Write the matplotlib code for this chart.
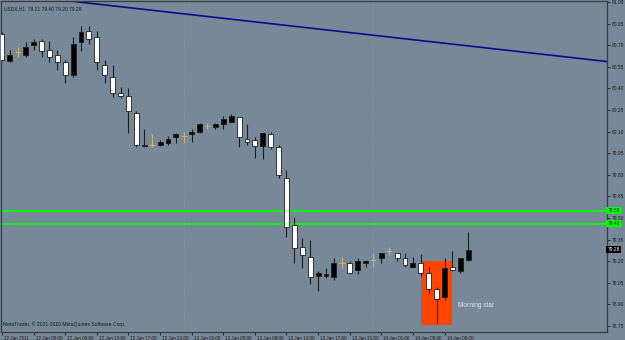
import matplotlib
matplotlib.use("Agg")
import matplotlib.pyplot as plt
import matplotlib.patches as patches
import matplotlib.transforms as mtransforms
import numpy as np

plt.rcParams['font.family'] = ['Liberation Sans', 'DejaVu Sans']

# hourly USDX bars, 12 Jan 01:00 .. 14 Jan 12:00
opens = [80.78, 80.59, 80.65, 80.63, 80.70, 80.73, 80.67, 80.63, 80.58, 80.49,
         80.72, 80.80, 80.76, 80.56, 80.48, 80.37, 80.35, 80.23, 80.00, 80.01,
         80.01, 80.02, 80.06, 80.07, 80.08, 80.10, 80.14, 80.13, 80.15, 80.17,
         80.20, 80.05, 80.04, 80.00, 80.08, 79.99, 79.78, 79.45, 79.30, 79.23,
         79.10, 79.10, 79.09, 79.19, 79.19, 79.14, 79.19, 79.21, 79.22, 79.27,
         79.26, 79.22, 79.16, 79.19, 79.12, 79.01, 78.95, 79.16, 79.13, 79.21]
highs = [80.79, 80.67, 80.69, 80.72, 80.74, 80.74, 80.73, 80.67, 80.60, 80.76,
         80.83, 80.83, 80.80, 80.60, 80.56, 80.41, 80.40, 80.24, 80.12, 80.08,
         80.04, 80.07, 80.09, 80.10, 80.12, 80.16, 80.16, 80.16, 80.21, 80.22,
         80.20, 80.15, 80.06, 80.09, 80.10, 80.01, 79.83, 79.51, 79.36, 79.35,
         79.13, 79.15, 79.22, 79.23, 79.20, 79.22, 79.21, 79.26, 79.26, 79.30,
         79.26, 79.26, 79.23, 79.25, 79.16, 79.02, 79.22, 79.27, 79.22, 79.40]
lows = [80.59, 80.58, 80.62, 80.62, 80.67, 80.62, 80.58, 80.53, 80.44, 80.48,
        80.66, 80.71, 80.53, 80.44, 80.34, 80.33, 80.09, 79.99, 79.99, 79.99,
        80.00, 80.01, 80.02, 80.02, 80.03, 80.09, 80.12, 80.12, 80.12, 80.17,
        79.99, 80.01, 79.92, 79.91, 79.98, 79.78, 79.37, 79.19, 79.15, 79.04,
        78.99, 79.08, 79.07, 79.15, 79.11, 79.11, 79.16, 79.16, 79.19, 79.24,
        79.20, 79.16, 79.15, 79.10, 78.98, 78.77, 78.93, 79.13, 79.12, 79.20]
closes = [80.60, 80.63, 80.65, 80.69, 80.72, 80.66, 80.62, 80.58, 80.49, 80.71,
          80.79, 80.74, 80.58, 80.49, 80.37, 80.35, 80.24, 80.01, 80.01, 80.01,
          80.03, 80.05, 80.08, 80.07, 80.10, 80.15, 80.14, 80.15, 80.19, 80.21,
          80.06, 80.03, 80.00, 80.09, 79.99, 79.80, 79.44, 79.29, 79.24, 79.09,
          79.12, 79.11, 79.19, 79.19, 79.12, 79.20, 79.20, 79.21, 79.26, 79.27,
          79.22, 79.17, 79.19, 79.12, 79.01, 78.94, 79.15, 79.14, 79.22, 79.28]

time_labels = ["12 Jan 2011", "12 Jan 05:00", "12 Jan 09:00", "12 Jan 13:00",
               "12 Jan 17:00", "12 Jan 21:00", "13 Jan 01:00", "13 Jan 05:00",
               "13 Jan 09:00", "13 Jan 13:00", "13 Jan 17:00", "13 Jan 21:00",
               "14 Jan 01:00", "14 Jan 05:00", "14 Jan 09:00"]
label_step = 4
day_starts = [23, 47]

price_ticks = [78.75, 78.90, 79.05, 79.20, 79.35, 79.50, 79.65, 79.80, 79.95,
               80.10, 80.25, 80.40, 80.55, 80.70, 80.85, 81.00]
levels = [79.55, 79.46]
trend_bars = [0, 76]
trend_prices = [81.06, 80.59]
pattern_bars = [53, 57]
pattern_prices = [78.76, 79.20]
pattern_name = "Morning star"
header = "USDX,H1  79.21 79.40 79.20 79.28"
footer = "MetaTrader, \u00a9 2001-2010 MetaQuotes Software Corp."

BG = '#778899'
fig = plt.figure(figsize=(6.25, 3.4), dpi=100, facecolor=BG)
ax = fig.add_axes([1 / 625, 8 / 340, 605.5 / 625, 331 / 340], facecolor=BG)

o = np.array(opens)
h = np.array(highs)
l = np.array(lows)
c = np.array(closes)
x = np.arange(len(o))

ax.add_patch(patches.Rectangle((pattern_bars[0], pattern_prices[0]),
                               pattern_bars[1] - pattern_bars[0],
                               pattern_prices[1] - pattern_prices[0],
                               facecolor='#ff4500', edgecolor='none', zorder=1))

# period separators (faint dotted)
for d in day_starts:
    ax.axvline(d, color='#93a0ad', lw=0.5, ls=(0, (1, 2)), zorder=1)

ax.axline((trend_bars[0], trend_prices[0]), (trend_bars[1], trend_prices[1]),
          color='#0a0a8c', lw=1.2, zorder=2)
for lv in levels:
    ax.axhline(lv, color='#00ff00', lw=1.4, zorder=2)

doji = o == c
up = (c > o) & ~doji
down = (c < o) & ~doji

ax.vlines(x[~doji], l[~doji], h[~doji], color='#1e1e1e', lw=0.8, zorder=3)
ax.vlines(x[doji], l[doji], h[doji], color='#cdb46a', lw=0.8, zorder=3)
ax.hlines(c[doji], x[doji] - 0.35, x[doji] + 0.35, color='#cdb46a', lw=0.8, zorder=3)

w = 0.62
ax.bar(x[up], c[up] - o[up], bottom=o[up], width=w, color='black',
       edgecolor='#1e1e1e', lw=0.6, zorder=4)
ax.bar(x[down], o[down] - c[down], bottom=c[down], width=w, color='white',
       edgecolor='#1e1e1e', lw=0.6, zorder=4)

ax.text(pattern_bars[1] + 0.7, 78.89, pattern_name, color='#e6e6e6',
        fontsize=4.7, va='center', ha='left', zorder=5)

ax.set_xlim(-0.13, 76.5)
ax.set_ylim(78.708, 81.007)

ax.yaxis.tick_right()
ax.set_yticks(price_ticks)
ax.set_yticklabels(['%.2f' % p for p in price_ticks])
ax.tick_params(axis='y', direction='out', length=2, width=0.6, pad=2,
               labelsize=3.5, colors='#1a1a1a')

ax.set_xticks(np.arange(len(time_labels)) * label_step)
ax.set_xticklabels(time_labels)
ax.tick_params(axis='x', direction='out', length=2, width=0.6, pad=1,
               labelsize=3.3, colors='#1a1a1a')
offset = mtransforms.ScaledTranslation(2 / 100, 0, fig.dpi_scale_trans)
for t in ax.get_xticklabels():
    t.set_horizontalalignment('left')
    t.set_transform(t.get_transform() + offset)

for s in ax.spines.values():
    s.set_color('#3c3c3c')
    s.set_linewidth(0.9)

tr = mtransforms.blended_transform_factory(ax.transAxes, ax.transData)
for lv in levels:
    ax.text(1.002, lv, '%.2f' % lv, transform=tr, fontsize=3.5, color='#1a1a1a',
            va='center', ha='left', zorder=6,
            bbox=dict(boxstyle='square,pad=0.25', fc='#00ff00', ec='none'))
ax.text(1.002, c[-1], '%.2f' % c[-1], transform=tr, fontsize=3.5, color='white',
        va='center', ha='left', zorder=6,
        bbox=dict(boxstyle='square,pad=0.25', fc='black', ec='none'))

ax.text(0.005, 0.985, header, transform=ax.transAxes, fontsize=3.5,
        color='#1a1a1a', va='top', ha='left')
ax.text(0.004, 0.015, footer, transform=ax.transAxes, fontsize=3.6,
        color='#1a1a1a', va='bottom', ha='left')

fig.savefig('out.png', dpi=100, facecolor=BG)
